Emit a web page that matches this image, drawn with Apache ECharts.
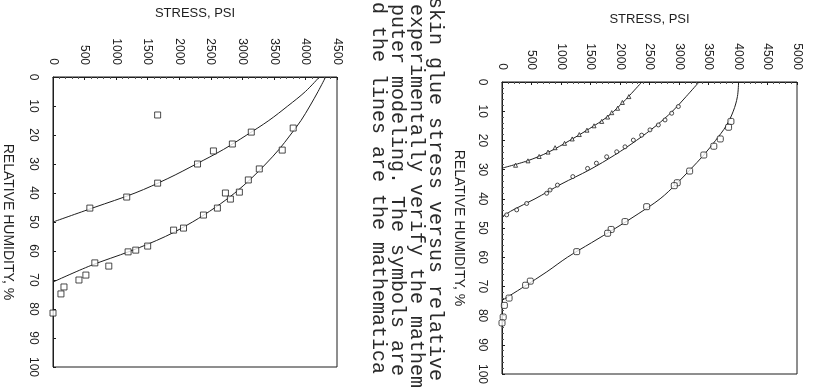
<!DOCTYPE html>
<html>
<head>
<meta charset="utf-8">
<script src="https://cdn.jsdelivr.net/npm/echarts@6/dist/echarts.min.js"></script>
<style>
  html, body { margin: 0; padding: 0; background: #fff; }
  #chart { width: 817px; height: 392px; }
</style>
</head>
<body>
<div id="chart"></div>
<script>
// ---- Panel A (stress axis 0-4500 psi) ----
// model curves: relative humidity (%) and stress (psi)
const aModel1Rh  = [0, 5, 10, 15, 20, 25, 30, 35, 40, 45, 50];
const aModel1Psi = [4220, 4000, 3720, 3420, 3070, 2700, 2270, 1820, 1300, 650, 0];
const aModel2Rh  = [0, 5, 10, 15, 20, 25, 30, 35, 40, 45, 50, 55, 60, 65, 70.7];
const aModel2Psi = [4320, 4200, 4070, 3930, 3760, 3580, 3370, 3140, 2880, 2570, 2210, 1780, 1230, 600, 0];
// measured points
const aTest1Rh  = [13.1, 19.0, 23.1, 25.5, 30.0, 36.6, 41.4, 45.2];
const aTest1Psi = [1658, 3142, 2842, 2542, 2290, 1658, 1168, 584];
const aTest2Rh  = [17.6, 25.2, 31.7, 35.5, 39.7, 40.0, 42.1, 45.2, 47.6, 52.1, 52.8, 58.3, 59.7, 60.3, 64.1, 65.2, 68.3, 70.0, 72.4, 74.8, 81.4];
const aTest2Psi = [3806, 3632, 3269, 3095, 2953, 2732, 2811, 2605, 2384, 2068, 1911, 1500, 1311, 1190, 663, 884, 521, 411, 174, 126, 0];

// ---- Panel B (stress axis 0-5000 psi) ----
const bModel1Rh  = [0, 4, 8, 12, 16, 20, 24, 27, 29.5];
const bModel1Psi = [2370, 2190, 2000, 1780, 1480, 1150, 790, 430, 0];
const bModel2Rh  = [0, 5, 10, 15, 20, 25, 30, 35, 40, 44, 46.2];
const bModel2Psi = [3340, 3120, 2890, 2610, 2280, 1910, 1490, 1000, 560, 170, 0];
const bModel3Rh  = [0, 5, 10, 15, 20, 25, 30, 35, 40, 45, 50, 55, 60, 65, 70, 74.8];
const bModel3Psi = [4010, 3990, 3920, 3800, 3620, 3420, 3190, 2950, 2680, 2320, 1930, 1520, 1110, 760, 380, 0];

const bTest1Rh  = [5, 7, 9, 10.5, 12, 13.5, 15, 16.5, 18, 19.5, 21, 22.5, 24, 25.5, 27, 28.5];
const bTest1Psi = [2150, 2040, 1960, 1860, 1790, 1690, 1560, 1440, 1310, 1190, 1060, 900, 780, 630, 440, 230];
const bTest2Rh  = [8.4, 10.7, 13.0, 14.7, 16.4, 18.2, 19.9, 22.2, 23.9, 25.6, 27.8, 29.6, 32.4, 35.3, 37.0, 38.1, 41.6, 43.8, 45.5];
const bTest2Psi = [2989, 2876, 2763, 2650, 2508, 2367, 2226, 2085, 1944, 1774, 1600, 1450, 1200, 940, 814, 757, 418, 249, 79];
const bTest3Rh  = [13.5, 15.5, 19.5, 22.0, 25.0, 30.5, 34.5, 35.5, 42.7, 47.8, 50.5, 51.8, 58.1, 68.2, 69.6, 74.0, 76.5, 80.5, 82.5];
const bTest3Psi = [3880, 3840, 3700, 3590, 3420, 3180, 2970, 2920, 2452, 2085, 1850, 1790, 1266, 480, 400, 120, 40, 20, 0];

// caption lines printed between the panels
const captionLines = [
  'skin glue stress versus relative',
  'experimentally verify the mathem',
  'puter modeling. The symbols are',
  'd the lines are the mathematica'
];

const STRESS_TITLE = 'STRESS, PSI';
const RH_TITLE = 'RELATIVE HUMIDITY, %';

const ink = '#1e1e1e';
const sansFont = 'Liberation Sans';

function pairs(rh, psi) {
  return rh.map((h, i) => [psi[i], h]);
}

function stressAxis(gridIndex, max, gap) {
  return {
    gridIndex, type: 'value', position: 'top', min: 0, max, interval: 500,
    name: STRESS_TITLE, nameLocation: 'middle', nameGap: gap,
    nameTextStyle: { fontFamily: sansFont, fontSize: 13, color: ink },
    axisLine: { show: true, lineStyle: { color: ink, width: 1 } },
    axisTick: { show: true, inside: true, length: 3, lineStyle: { color: ink } },
    minorTick: { show: true, splitNumber: 5, length: 2, lineStyle: { color: '#555' } },
    splitLine: { show: false },
    axisLabel: {
      rotate: -90, margin: 12, fontFamily: sansFont, fontSize: 12, color: ink,
      formatter: v => String(v)
    }
  };
}

function rhAxis(gridIndex, minor, gap) {
  return {
    gridIndex, type: 'value', inverse: true, min: 0, max: 100, interval: 10,
    name: RH_TITLE, nameLocation: 'middle', nameRotate: -90, nameGap: gap,
    nameTextStyle: { fontFamily: sansFont, fontSize: 14, color: ink },
    axisLine: { show: true, lineStyle: { color: ink, width: 1 } },
    axisTick: { show: true, inside: true, length: 3, lineStyle: { color: ink } },
    minorTick: { show: minor, splitNumber: 5, length: 2, lineStyle: { color: '#555' } },
    splitLine: { show: false },
    axisLabel: {
      rotate: -90, margin: 14, fontFamily: sansFont, fontSize: 12, color: ink,
      formatter: v => String(v)
    }
  };
}

function modelLine(xi, rh, psi) {
  return {
    type: 'line', xAxisIndex: xi, yAxisIndex: xi, data: pairs(rh, psi),
    showSymbol: false, smooth: 0.35, silent: true,
    lineStyle: { color: ink, width: 1 }, z: 3
  };
}

function testPoints(xi, rh, psi, symbol, size) {
  return {
    type: 'scatter', xAxisIndex: xi, yAxisIndex: xi, data: pairs(rh, psi),
    symbol, symbolSize: size, silent: true,
    itemStyle: { color: '#fff', borderColor: ink, borderWidth: 1 }, z: 4
  };
}

const captionX = [435, 416, 397, 378];
const captionY = [-3, 4, 4, 2];

const chart = echarts.init(document.getElementById('chart'), null, { renderer: 'canvas' });
chart.setOption({
  backgroundColor: '#fff',
  animation: false,
  grid: [
    { left: 52, top: 77, width: 285, height: 290, show: true, borderColor: ink, borderWidth: 1, backgroundColor: 'transparent' },
    { left: 502, top: 82, width: 295, height: 292, show: true, borderColor: ink, borderWidth: 1, backgroundColor: 'transparent' }
  ],
  xAxis: [stressAxis(0, 4500, 57), stressAxis(1, 5000, 56)],
  yAxis: [rhAxis(0, false, 38), rhAxis(1, true, 36)],
  series: [
    modelLine(0, aModel1Rh, aModel1Psi),
    modelLine(0, aModel2Rh, aModel2Psi),
    testPoints(0, aTest1Rh, aTest1Psi, 'rect', 6),
    testPoints(0, aTest2Rh, aTest2Psi, 'rect', 6),
    modelLine(1, bModel1Rh, bModel1Psi),
    modelLine(1, bModel2Rh, bModel2Psi),
    modelLine(1, bModel3Rh, bModel3Psi),
    testPoints(1, bTest1Rh, bTest1Psi, 'triangle', 4),
    testPoints(1, bTest2Rh, bTest2Psi, 'circle', 4),
    testPoints(1, bTest3Rh, bTest3Psi, 'roundRect', 6)
  ],
  graphic: captionLines.map((line, i) => ({
    type: 'text',
    x: captionX[i],
    y: captionY[i],
    rotation: -Math.PI / 2,
    silent: true,
    style: {
      text: line,
      fontFamily: 'Liberation Mono',
      fontSize: 20,
      fill: '#2a2a2a',
      align: 'left',
      verticalAlign: 'middle'
    }
  }))
});
</script>
</body>
</html>
